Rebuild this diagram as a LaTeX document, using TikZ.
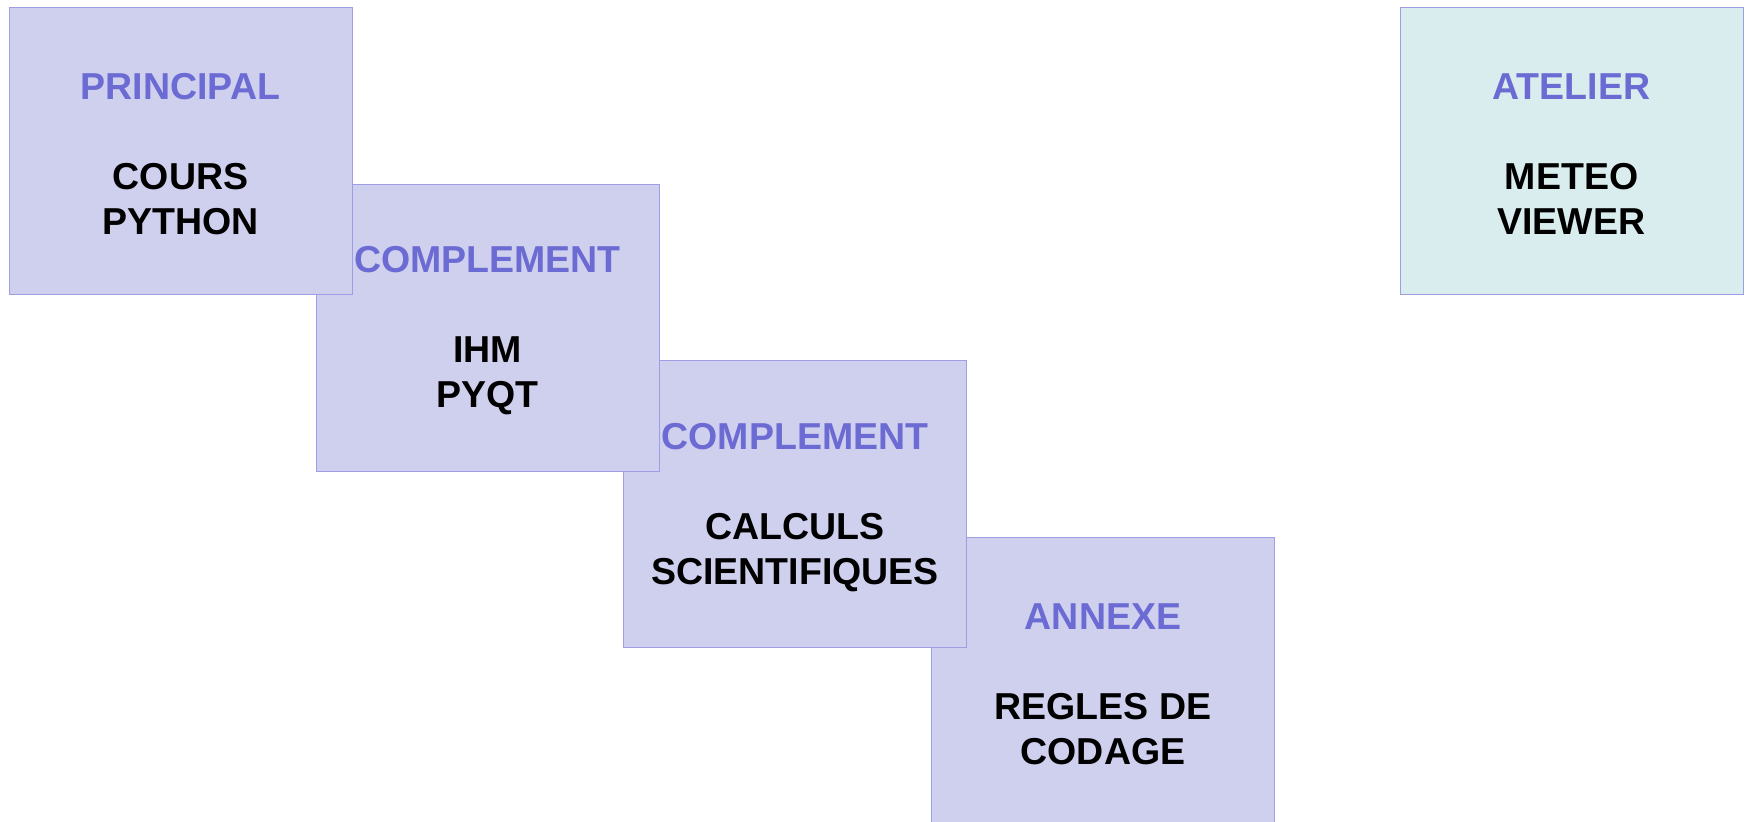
\documentclass[tikz,border=0pt]{standalone}
\usepackage{fontspec}
\setmainfont{Liberation Sans}
\usetikzlibrary{positioning}
\definecolor{lav}{HTML}{CFCFEE}
\definecolor{mint}{HTML}{DAEDEE}
\definecolor{rim}{HTML}{9E9EE4}
\definecolor{head}{HTML}{6B6BD3}
\tikzset{
  every node/.style = {font=\fontsize{18.75}{22.5}\selectfont\bfseries, text=black},
  mdbox/.style      = {draw=rim, line width=0.5pt, fill=lav, align=center, inner sep=0pt,
                       minimum width=171.5pt, minimum height=143.5pt},
  mdatelier/.style  = {mdbox, fill=mint},
}
\newcommand{\mdhead}[1]{\rule{0pt}{15.8pt}\textcolor{head}{#1}\\[22.5pt]}

\begin{document}
\begin{tikzpicture}[x=0.5pt, y=-0.5pt]
\useasboundingbox (0,0) rectangle (1752,822);

% drawn back to front, each box sits over the next one
\foreach \i/\x/\y/\ttl/\sub in {%
  4/1103/681/ANNEXE/{REGLES DE\\CODAGE},
  3/795/504.5/COMPLEMENT/{CALCULS\\SCIENTIFIQUES},
  2/487.5/328/COMPLEMENT/{IHM\\PYQT},
  1/180.5/151.5/PRINCIPAL/{COURS\\PYTHON}%
}{
  \node[mdbox] (B\i) at (\x,\y) {\mdhead{\ttl}\sub};
}

\node[mdatelier] (A) at (1571.5,151.5) {\mdhead{ATELIER}METEO\\VIEWER};
\end{tikzpicture}
\end{document}
